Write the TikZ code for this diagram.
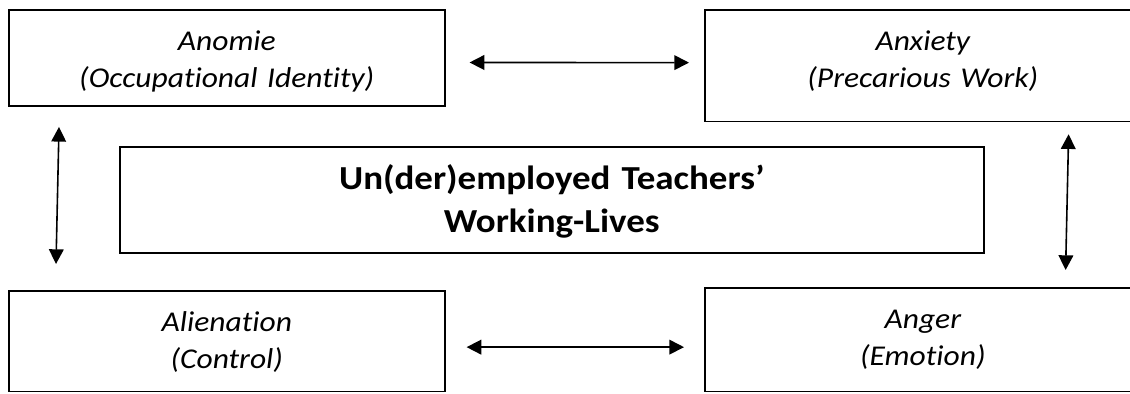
\documentclass[tikz,border=0pt]{standalone}
\usepackage{fontspec}
\setmainfont{Carlito}[Ligatures={TeX,NoCommon},FakeStretch=1.1]
\usetikzlibrary{arrows.meta}

\begin{document}
\begin{tikzpicture}[x=0.75pt,y=-0.75pt,
    sidebox/.style={draw,line width=1.2pt,inner sep=0pt,anchor=north west,
      text width=327pt,align=center,text height=30.5pt,
      font=\fontsize{21.5}{28}\selectfont\itshape},
    link/.style={line width=1.2pt,
      {Triangle[length=11pt,width=11pt]}-{Triangle[length=11pt,width=11pt]}}]
  \useasboundingbox (0,0) rectangle (1130,393);
  \node[sidebox,text depth=41.75pt] (anomie) at (8,9) {Anomie\\(Occupational Identity)};
  \node[sidebox,text depth=53.25pt] (anxiety) at (704,9) {Anxiety\\(Precarious Work)};
  \node[sidebox,text depth=45pt] (alienation) at (8,290) {Alienation\\(Control)};
  \node[sidebox,text depth=47.25pt] (anger) at (704,287) {Anger\\(Emotion)};
  \node[draw,line width=1.2pt,inner sep=0pt,anchor=north west,text width=648pt,
    align=center,text height=32.25pt,text depth=47.25pt,
    font=\fontsize{25.2}{32.25}\selectfont\bfseries] (lives) at (119,146)
    {Un(der)employed Teachers'\\Working-Lives};
  \draw[link] ([shift={(24,4.5)}]anomie.east) -- ([shift={(-15,-3)}]anxiety.west);
  \draw[link] ([shift={(21,6)}]alienation.east) -- ([shift={(-20,7.5)}]anger.west);
  \draw[link] ([shift={(51,20)}]anomie.south west) -- ([shift={(48,-26)}]alienation.north west);
  \draw[link] ([shift={(-73,12)}]anxiety.south east) -- ([shift={(-76,-17)}]anger.north east);
\end{tikzpicture}
\end{document}
